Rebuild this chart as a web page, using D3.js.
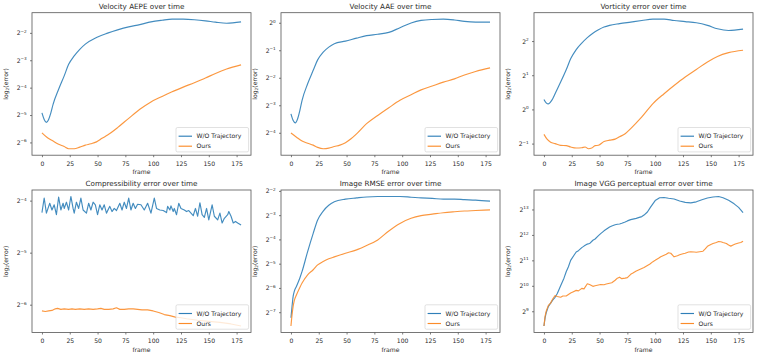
<!DOCTYPE html>
<html>
<head>
<meta charset="utf-8">
<script src="https://cdn.jsdelivr.net/npm/d3@7"></script>
<style>
  body { margin: 0; background: #fff; }
  text { font-family: "DejaVu Sans", sans-serif; }
</style>
</head>
<body>
<svg id="fig" width="761" height="356"></svg>
<script>
// values are [frame, log2(error)]
const FRAME_TICKS = [0, 25, 50, 75, 100, 125, 150, 175];
const SERIES_NAMES = ["W/O Trajectory", "Ours"];
const TITLES = [
  "Velocity AEPE over time",
  "Velocity AAE over time",
  "Vorticity error over time",
  "Compressibility error over time",
  "Image RMSE error over time",
  "Image VGG perceptual error over time",
];

const aepeWo = [[0,-4.92],[2,-5.16],[4,-5.27],[6,-5.16],[8,-4.92],[10,-4.61],[15,-4.06],[20,-3.57],[24,-3.15],[29,-2.84],[34,-2.60],[39,-2.41],[49,-2.17],[59,-2.01],[68,-1.89],[78,-1.78],[88,-1.70],[98,-1.60],[108,-1.54],[117,-1.50],[127,-1.50],[137,-1.52],[147,-1.56],[156,-1.61],[166,-1.65],[179,-1.60]];
const aepeOurs = [[0,-5.65],[5,-5.83],[10,-5.95],[15,-6.07],[20,-6.15],[24,-6.23],[29,-6.23],[34,-6.17],[39,-6.10],[44,-6.05],[49,-5.98],[54,-5.85],[59,-5.73],[68,-5.46],[78,-5.12],[88,-4.79],[98,-4.52],[108,-4.32],[117,-4.15],[127,-3.98],[137,-3.82],[147,-3.65],[156,-3.48],[166,-3.32],[179,-3.17]];

const aaeWo = [[0,-3.31],[2,-3.55],[4,-3.64],[6,-3.49],[8,-3.19],[10,-2.82],[15,-2.22],[20,-1.73],[24,-1.35],[29,-1.07],[34,-0.885],[39,-0.76],[49,-0.67],[59,-0.56],[68,-0.47],[78,-0.42],[88,-0.35],[98,-0.18],[108,-0.01],[117,0.085],[127,0.12],[137,0.13],[147,0.10],[156,0.05],[166,0.025],[179,0.025]];
const aaeOurs = [[0,-4.01],[5,-4.16],[10,-4.30],[15,-4.38],[20,-4.45],[24,-4.53],[29,-4.58],[34,-4.56],[39,-4.50],[44,-4.45],[49,-4.36],[54,-4.22],[59,-4.04],[68,-3.67],[78,-3.37],[88,-3.09],[98,-2.82],[108,-2.62],[117,-2.44],[127,-2.30],[137,-2.16],[147,-2.04],[156,-1.90],[166,-1.77],[179,-1.64]];

const vortWo = [[0,0.29],[2,0.19],[4,0.16],[6,0.22],[8,0.32],[10,0.46],[15,0.80],[20,1.16],[24,1.48],[29,1.75],[34,1.94],[39,2.10],[44,2.23],[49,2.33],[54,2.41],[59,2.46],[68,2.51],[78,2.555],[88,2.60],[98,2.64],[108,2.64],[117,2.60],[127,2.57],[137,2.535],[147,2.46],[156,2.36],[166,2.31],[179,2.35]];
const vortOurs = [[0,-0.73],[3,-0.88],[6,-0.96],[10,-1.00],[15,-1.05],[20,-1.06],[24,-1.10],[29,-1.13],[34,-1.12],[37,-1.10],[40,-1.15],[43,-1.13],[46,-1.06],[49,-1.05],[54,-0.94],[59,-0.90],[64,-0.87],[68,-0.80],[73,-0.71],[78,-0.56],[88,-0.22],[98,0.17],[108,0.46],[117,0.70],[127,0.95],[137,1.17],[147,1.39],[156,1.55],[166,1.66],[179,1.73]];

const compWo = [[0,-4.23],[2,-3.95],[4,-4.24],[7,-4.05],[9,-4.18],[11,-4.08],[13,-4.27],[15,-3.93],[17,-4.18],[19,-4.05],[20,-4.15],[22,-4.03],[24,-4.18],[26,-3.92],[28,-4.15],[29,-4.24],[31,-4.03],[33,-4.15],[35,-3.95],[37,-4.18],[40,-4.24],[42,-4.05],[44,-4.18],[46,-4.03],[48,-4.08],[50,-4.27],[52,-4.08],[54,-4.18],[56,-4.08],[58,-4.24],[61,-4.11],[63,-4.21],[65,-4.15],[67,-4.19],[70,-4.05],[72,-4.18],[74,-4.03],[76,-4.15],[78,-3.95],[80,-4.18],[82,-4.05],[84,-4.15],[86,-4.07],[89,-4.08],[92,-4.18],[95,-4.05],[98,-4.24],[101,-3.95],[103,-4.15],[106,-4.18],[109,-4.19],[112,-4.23],[113,-4.11],[115,-4.18],[116,-4.10],[118,-4.21],[119,-4.15],[121,-4.27],[123,-4.05],[125,-4.15],[128,-4.18],[130,-4.21],[132,-4.19],[134,-4.24],[136,-4.29],[138,-4.15],[140,-4.30],[142,-4.04],[144,-4.27],[146,-4.32],[148,-4.15],[150,-4.37],[153,-4.08],[155,-4.30],[158,-4.37],[160,-4.24],[162,-4.43],[164,-4.34],[167,-4.27],[168,-4.21],[170,-4.30],[172,-4.43],[174,-4.40],[176,-4.43],[179,-4.47]];
const compOurs = [[0,-6.12],[3,-6.13],[6,-6.12],[9,-6.11],[12,-6.08],[14,-6.07],[17,-6.09],[20,-6.08],[24,-6.09],[27,-6.08],[30,-6.09],[34,-6.08],[38,-6.09],[42,-6.08],[46,-6.09],[50,-6.08],[53,-6.07],[56,-6.09],[60,-6.09],[64,-6.08],[67,-6.06],[70,-6.09],[74,-6.09],[78,-6.08],[82,-6.08],[86,-6.09],[90,-6.10],[95,-6.10],[100,-6.12],[105,-6.15],[110,-6.19],[115,-6.21],[120,-6.24],[125,-6.25],[130,-6.27],[140,-6.30],[150,-6.32],[160,-6.34],[170,-6.37],[179,-6.41]];

const rmseWo = [[0,-7.23],[1,-6.75],[2,-6.34],[3,-6.14],[5,-5.93],[8,-5.59],[10,-5.32],[15,-4.50],[20,-3.75],[24,-3.20],[29,-2.83],[34,-2.59],[39,-2.45],[49,-2.34],[59,-2.29],[68,-2.25],[78,-2.23],[88,-2.23],[98,-2.23],[108,-2.26],[117,-2.29],[127,-2.31],[137,-2.34],[147,-2.34],[156,-2.36],[166,-2.38],[179,-2.42]];
const rmseOurs = [[0,-7.57],[1,-7.10],[2,-6.75],[3,-6.52],[5,-6.28],[8,-5.98],[10,-5.80],[15,-5.46],[20,-5.25],[24,-5.05],[29,-4.91],[34,-4.80],[39,-4.72],[49,-4.57],[59,-4.43],[68,-4.25],[78,-4.02],[88,-3.65],[98,-3.34],[108,-3.13],[117,-3.02],[127,-2.96],[137,-2.90],[147,-2.86],[156,-2.83],[166,-2.81],[179,-2.78]];

const vggWo = [[0,8.42],[1,8.74],[2,8.94],[4,9.19],[6,9.32],[8,9.45],[10,9.55],[12,9.70],[15,10.0],[18,10.3],[20,10.55],[22,10.75],[24,11.0],[27,11.2],[29,11.33],[31,11.38],[34,11.5],[36,11.56],[39,11.64],[41,11.66],[44,11.79],[46,11.84],[49,11.97],[51,12.05],[54,12.16],[56,12.22],[59,12.31],[61,12.35],[64,12.40],[66,12.42],[68,12.43],[70,12.46],[73,12.51],[75,12.55],[78,12.60],[80,12.62],[83,12.65],[85,12.68],[88,12.72],[90,12.78],[93,12.90],[96,13.10],[100,13.35],[104,13.46],[108,13.47],[112,13.44],[117,13.41],[122,13.33],[127,13.28],[132,13.26],[137,13.30],[142,13.38],[147,13.45],[152,13.49],[157,13.51],[161,13.46],[166,13.36],[171,13.22],[175,13.08],[179,12.88]];
const vggOurs = [[0,8.42],[1,8.80],[2,9.0],[4,9.23],[6,9.32],[8,9.49],[10,9.62],[12,9.58],[14,9.56],[15,9.55],[17,9.60],[20,9.60],[22,9.66],[24,9.72],[26,9.76],[29,9.82],[31,9.80],[34,9.90],[36,9.88],[39,10.08],[41,10.05],[44,9.98],[46,10.0],[49,10.03],[51,10.05],[54,10.04],[56,10.07],[59,10.10],[61,10.12],[64,10.22],[66,10.30],[68,10.34],[70,10.28],[73,10.30],[75,10.32],[78,10.45],[80,10.50],[83,10.58],[85,10.62],[88,10.68],[90,10.72],[93,10.80],[95,10.85],[98,10.95],[100,11.0],[103,11.08],[105,11.14],[108,11.20],[110,11.24],[112,11.30],[114,11.28],[117,11.14],[120,11.18],[122,11.22],[125,11.26],[127,11.28],[130,11.33],[132,11.34],[135,11.33],[137,11.32],[140,11.34],[143,11.36],[145,11.45],[147,11.55],[150,11.62],[152,11.66],[155,11.70],[157,11.74],[159,11.73],[161,11.70],[164,11.66],[166,11.60],[168,11.56],[170,11.60],[172,11.64],[175,11.68],[177,11.70],[179,11.75]];

const PANELS = [
  { title: TITLES[0], wo: aepeWo, ours: aepeOurs, smooth: true },
  { title: TITLES[1], wo: aaeWo, ours: aaeOurs, smooth: true },
  { title: TITLES[2], wo: vortWo, ours: vortOurs, smooth: true },
  { title: TITLES[3], wo: compWo, ours: compOurs, smooth: false },
  { title: TITLES[4], wo: rmseWo, ours: rmseOurs, smooth: true },
  { title: TITLES[5], wo: vggWo, ours: vggOurs, smooth: false },
];

const COLORS = ["#2f7fb8", "#fb8c2a"];
const COL_LEFT = [32, 281, 534];
const ROW_TOP = [12.7, 190];
const PLOT_W = 219;
const PLOT_H = 142.5;
const FS = 6.1;

const svg = d3.select("#fig");

const supMinus = (n) => (n < 0 ? "\u2212" + -n : "" + n);

PANELS.forEach((p, i) => {
  const left = COL_LEFT[i % 3];
  const top = ROW_TOP[Math.floor(i / 3)];
  const g = svg.append("g").attr("transform", `translate(${left},${top})`);

  const x = d3.scaleLinear().domain([-8.95, 187.95]).range([0, PLOT_W]);
  const all = p.wo.concat(p.ours).map((d) => d[1]);
  const lo = d3.min(all), hi = d3.max(all), pad = (hi - lo) * 0.05;
  const y = d3
    .scaleLog()
    .base(2)
    .domain([Math.pow(2, lo - pad), Math.pow(2, hi + pad)])
    .range([PLOT_H, 0]);

  const expTicks = d3.range(Math.ceil(lo - pad), Math.floor(hi + pad) + 1);

  // x axis
  const xg = g
    .append("g")
    .attr("transform", `translate(0,${PLOT_H})`)
    .call(d3.axisBottom(x).tickValues(FRAME_TICKS).tickSize(2).tickPadding(4.2));
  xg.select(".domain").remove();
  xg.selectAll(".tick line").attr("stroke", "#444").attr("stroke-width", 0.7);
  xg.selectAll(".tick text")
    .attr("fill", "#2a2a2a")
    .style("font-size", FS + "px")
    .style("font-family", "DejaVu Sans");

  // y axis, powers of two
  const yg = g
    .append("g")
    .call(
      d3
        .axisLeft(y)
        .tickValues(expTicks.map((k) => Math.pow(2, k)))
        .tickSize(2)
        .tickPadding(3.3)
    );
  yg.select(".domain").remove();
  yg.selectAll(".tick line").attr("stroke", "#444").attr("stroke-width", 0.7);
  yg.selectAll(".tick text")
    .attr("fill", "#2a2a2a")
    .style("font-family", "DejaVu Sans")
    .style("font-size", FS + "px")
    .text(null)
    .each(function (d) {
      const t = d3.select(this);
      t.append("tspan").text("2");
      t.append("tspan")
        .attr("dy", -2.5)
        .style("font-size", "4.2px")
        .text(supMinus(Math.round(Math.log2(d))));
    });

  // lines
  const line = d3
    .line()
    .x((d) => x(d[0]))
    .y((d) => y(Math.pow(2, d[1])))
    .curve(p.smooth ? d3.curveMonotoneX : d3.curveLinear);

  [p.wo, p.ours].forEach((s, k) => {
    g.append("path")
      .datum(s)
      .attr("d", line)
      .attr("fill", "none")
      .attr("stroke", COLORS[k])
      .attr("stroke-width", 1.15)
      .attr("stroke-opacity", 0.9)
      .attr("stroke-linejoin", "round");
  });

  // frame
  g.append("rect")
    .attr("width", PLOT_W)
    .attr("height", PLOT_H)
    .attr("fill", "none")
    .attr("stroke", "#555")
    .attr("stroke-width", 0.8);

  // title & labels
  g.append("text")
    .attr("x", PLOT_W / 2)
    .attr("y", -4)
    .attr("text-anchor", "middle")
    .attr("fill", "#2a2a2a")
    .style("font-size", "7.2px")
    .text(p.title);

  g.append("text")
    .attr("x", PLOT_W / 2)
    .attr("y", PLOT_H + 19)
    .attr("text-anchor", "middle")
    .attr("fill", "#2a2a2a")
    .style("font-size", FS + "px")
    .text("frame");

  const yl = g
    .append("text")
    .attr("transform", `translate(-24,${PLOT_H / 2}) rotate(-90)`)
    .attr("text-anchor", "middle")
    .attr("fill", "#2a2a2a")
    .style("font-size", FS + "px");
  yl.append("tspan").text("log");
  yl.append("tspan").attr("dy", 1.4).style("font-size", "4.2px").text("2");
  yl.append("tspan").attr("dy", -1.4).text("(error)");

  // legend, lower right
  const lw = 72.6, lh = 24.4;
  const lg = g
    .append("g")
    .attr("transform", `translate(${PLOT_W - 2.4 - lw},${PLOT_H - 3.3 - lh})`);
  lg.append("rect")
    .attr("width", lw)
    .attr("height", lh)
    .attr("rx", 1.5)
    .attr("fill", "#fff")
    .attr("fill-opacity", 0.8)
    .attr("stroke", "#ccc")
    .attr("stroke-width", 0.6);
  SERIES_NAMES.forEach((name, k) => {
    const cy = 8.7 + k * 10;
    lg.append("line")
      .attr("x1", 2.6)
      .attr("x2", 16)
      .attr("y1", cy)
      .attr("y2", cy)
      .attr("stroke", COLORS[k])
      .attr("stroke-width", 1.15);
    lg.append("text")
      .attr("x", 20.5)
      .attr("y", cy + 2.2)
      .attr("fill", "#2a2a2a")
      .style("font-size", FS + "px")
      .text(name);
  });
});
</script>
</body>
</html>
